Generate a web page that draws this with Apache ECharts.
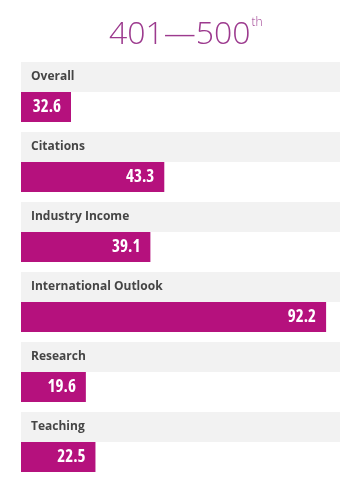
<!DOCTYPE html>
<html>
<head>
<meta charset="utf-8">
<script src="https://cdn.jsdelivr.net/npm/echarts@6/dist/echarts.min.js"></script>
<style>
  html, body { margin: 0; padding: 0; background: #ffffff; }
  #chart { width: 340px; height: 484px; }
</style>
</head>
<body>
<div id="chart"></div>
<script>
// Rank band shown as the heading
const rankText = '401\u2014500';
const rankSuffix = 'th';

// Overall score, drawn on its own compact scale
const overallLabel = ['Overall'];
const overallScore = [32.6];
const overallAxisMax = 208;

// Pillar scores (the axis ends a little before 100 at the right edge)
const pillarLabels = ['Citations', 'Industry Income', 'International Outlook', 'Research', 'Teaching'];
const pillarScores = [43.3, 39.1, 92.2, 19.6, 22.5];
const scoreAxisMax = 96.4;

const barColor = '#b5117d';
const trackColor = '#f2f2f2';

function rowSeries(gridIdx, labels, scores, axisMax) {
  return [
    {
      type: 'bar',
      xAxisIndex: gridIdx,
      yAxisIndex: gridIdx,
      barWidth: 30,
      barGap: '0%',
      silent: true,
      data: labels.map(() => axisMax),
      itemStyle: { color: trackColor },
      label: {
        show: true,
        position: 'insideLeft',
        distance: 10,
        formatter: p => p.name,
        color: '#454545',
        fontFamily: 'Open Sans',
        fontWeight: 'bold',
        fontSize: 12
      }
    },
    {
      type: 'bar',
      xAxisIndex: gridIdx,
      yAxisIndex: gridIdx,
      barWidth: 30,
      barGap: '0%',
      silent: true,
      data: scores,
      itemStyle: { color: barColor },
      label: {
        show: true,
        position: 'insideRight',
        distance: 10,
        formatter: p => p.value.toFixed(1),
        color: '#ffffff',
        // condensed bold face for the figures
        fontFamily: '"Open Sans", sans-serif',
        fontWeight: 'bold extra-condensed',
        fontSize: 17
      }
    }
  ];
}

function axes(labels, axisMax, idx) {
  return {
    x: { type: 'value', gridIndex: idx, min: 0, max: axisMax, show: false },
    y: { type: 'category', gridIndex: idx, data: labels, inverse: true, show: false }
  };
}

const a0 = axes(overallLabel, overallAxisMax, 0);
const a1 = axes(pillarLabels, scoreAxisMax, 1);

const chart = echarts.init(document.getElementById('chart'), null, { renderer: 'canvas' });
chart.setOption({
  animation: false,
  backgroundColor: '#ffffff',
  title: {
    text: '{a|' + rankText + '}{b|' + rankSuffix + '}',
    left: 104,
    top: 12,
    textStyle: {
      rich: {
        a: { fontFamily: 'Open Sans', fontWeight: 300, fontSize: 32, color: '#9c3a8e', lineHeight: 36 },
        b: { fontFamily: 'Open Sans', fontWeight: 300, fontSize: 12, color: '#9c3a8e', verticalAlign: 'top', lineHeight: 36, padding: [0, 0, 18, 1] }
      }
    }
  },
  grid: [
    { left: 21, right: 0, top: 57, height: 70 },
    { left: 21, right: 0, top: 127, height: 350 }
  ],
  xAxis: [a0.x, a1.x],
  yAxis: [a0.y, a1.y],
  series: [
    ...rowSeries(0, overallLabel, overallScore, overallAxisMax),
    ...rowSeries(1, pillarLabels, pillarScores, scoreAxisMax)
  ]
});
</script>
</body>
</html>
